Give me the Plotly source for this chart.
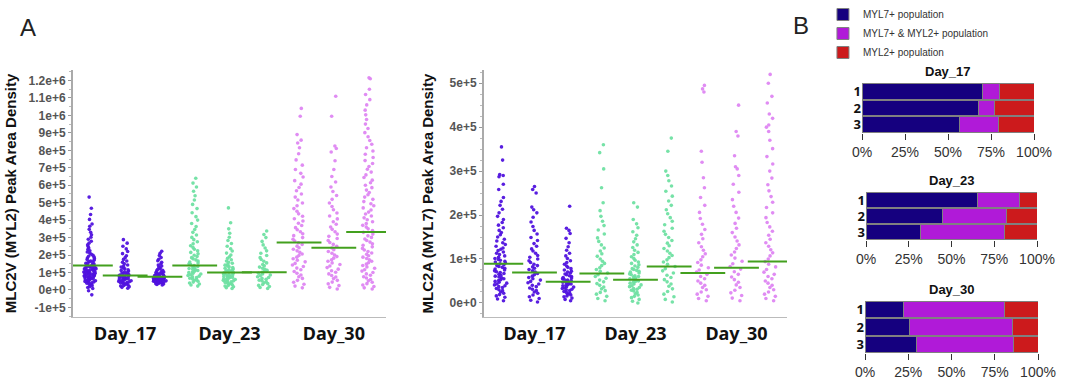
import plotly.graph_objects as go

# ---------------- Panel A data (values in thousands) ----------------
days = ["Day_17", "Day_23", "Day_30"]
day_tick_pos = [1, 4, 7]

# MLC2V (MYL2) peak area density, per sample column (thousands)
myl2_d17_1 = [-28, -5, 8, 14, 19, 24, 28, 31, 35, 38, 41, 44, 46, 49, 51, 53, 56, 58, 60, 62, 64, 66, 68, 70, 71, 73,
              75, 77, 78, 80, 82, 83, 85, 87, 88, 90, 92, 93, 95, 97, 98, 100, 102, 103, 105, 107, 108, 110, 112, 114,
              116, 118, 120, 122, 124, 126, 128, 130, 133, 135, 138, 140, 143, 146, 149, 152, 155, 158, 162, 166, 170,
              174, 178, 183, 188, 193, 198, 204, 210, 217, 224, 232, 240, 249, 258, 268, 279, 290, 302, 316, 330, 347,
              365, 378, 404, 432, 468, 532]
myl2_d17_2 = [10, 15, 19, 23, 26, 29, 32, 35, 37, 40, 42, 44, 47, 49, 51, 53, 55, 57, 59, 61, 63, 65, 67, 69, 71, 73, 75,
              77, 79, 81, 83, 86, 88, 91, 94, 97, 100, 104, 108, 112, 116, 121, 126, 131, 137, 143, 150, 158, 166, 175,
              185, 196, 208, 220, 235, 250, 268, 288]
myl2_d17_3 = [28, 31, 34, 36, 38, 40, 41, 43, 44, 45, 47, 48, 49, 50, 51, 52, 53, 54, 55, 56, 57, 58, 59, 60, 61, 62, 63,
              64, 65, 66, 67, 68, 69, 70, 71, 72, 73, 74, 75, 77, 78, 79, 81, 82, 84, 85, 87, 89, 91, 93, 95, 97, 100,
              103, 106, 109, 113, 117, 121, 126, 131, 137, 143, 150, 158, 167, 176, 186, 197, 210, 222]
myl2_d23_1 = [22, 28, 34, 40, 45, 50, 55, 59, 63, 67, 71, 75, 79, 83, 87, 91, 95, 99, 103, 107, 111, 115, 119, 123, 127,
              131, 135, 140, 145, 150, 155, 160, 166, 172, 178, 185, 192, 199, 207, 215, 224, 233, 243, 253, 264, 276,
              288, 301, 315, 330, 346, 363, 381, 400, 420, 442, 466, 490, 515, 540, 565, 590, 612, 640]
myl2_d23_2 = [8, 13, 18, 22, 26, 30, 34, 37, 40, 43, 46, 49, 52, 55, 57, 60, 62, 65, 67, 70, 72, 74, 77, 79, 81, 84, 86,
              88, 91, 93, 96, 98, 101, 104, 107, 110, 113, 116, 120, 124, 128, 132, 137, 142, 147, 153, 159, 166, 173,
              181, 190, 200, 211, 223, 236, 250, 266, 283, 302, 325, 350, 385, 470]
myl2_d23_3 = [8, 14, 20, 26, 31, 36, 41, 46, 51, 56, 61, 66, 71, 76, 81, 86, 91, 96, 101, 106, 112, 118, 124, 131, 138,
              146, 155, 164, 174, 185, 197, 210, 224, 240, 258, 278, 300, 318, 338]
myl2_d30_1 = [12, 22, 33, 44, 55, 66, 76, 86, 96, 106, 116, 125, 134, 143, 152, 161, 170, 179, 188, 197, 206, 215, 224,
              233, 242, 251, 260, 270, 280, 290, 300, 311, 322, 333, 345, 357, 369, 382, 395, 408, 422, 436, 451, 466,
              482, 498, 515, 532, 550, 568, 587, 606, 626, 647, 668, 690, 715, 745, 780, 815, 842, 858, 890, 995, 1040]
myl2_d30_2 = [5, 15, 25, 35, 45, 55, 65, 74, 83, 92, 101, 110, 119, 128, 137, 146, 155, 164, 173, 182, 191, 200, 210,
              220, 230, 240, 250, 261, 272, 283, 295, 307, 320, 333, 347, 361, 376, 391, 407, 424, 441, 459, 478, 498,
              519, 541, 564, 590, 618, 650, 690, 740, 790, 810, 825, 995, 1110]
myl2_d30_3 = [5, 12, 20, 28, 36, 44, 52, 60, 68, 76, 84, 92, 100, 108, 116, 124, 132, 140, 148, 156, 164, 172, 180, 188,
              196, 204, 212, 220, 229, 238, 247, 256, 265, 274, 283, 292, 301, 310, 320, 330, 340, 350, 360, 370, 380,
              391, 402, 413, 424, 435, 446, 458, 470, 482, 494, 506, 519, 532, 545, 558, 572, 586, 600, 614, 629, 644,
              659, 675, 691, 707, 724, 741, 759, 777, 796, 815, 835, 856, 878, 901, 925, 950, 976, 1003, 1030, 1060,
              1090, 1120, 1150, 1210, 1215]
myl2_means_k = [140, 83, 75, 140, 100, 102, 272, 242, 332]

# MLC2A (MYL7) peak area density (thousands)
myl7_d17_1 = [5, 9, 13, 16, 19, 22, 25, 28, 30, 33, 35, 37, 39, 41, 43, 45, 47, 49, 51, 53, 55, 57, 59, 61, 63, 65, 67,
              69, 71, 73, 75, 77, 79, 81, 83, 85, 87, 89, 91, 93, 95, 97, 99, 101, 104, 107, 110, 113, 116, 119, 122,
              125, 129, 133, 137, 141, 145, 150, 155, 160, 165, 171, 177, 183, 190, 197, 205, 213, 222, 231, 240, 258,
              270, 287, 290, 292, 325, 355]
myl7_d17_2 = [2, 6, 10, 14, 18, 22, 25, 28, 31, 34, 37, 40, 43, 46, 49, 52, 55, 58, 61, 64, 67, 70, 73, 76, 79, 82, 85,
              88, 92, 96, 100, 104, 108, 113, 118, 123, 129, 135, 142, 149, 157, 165, 174, 184, 195, 205, 212, 218, 250,
              258, 265]
myl7_d17_3 = [5, 8, 11, 14, 16, 18, 20, 22, 24, 26, 28, 30, 31, 33, 34, 36, 37, 39, 40, 42, 43, 44, 46, 47, 48, 50, 51,
              52, 54, 55, 57, 58, 60, 62, 64, 66, 68, 70, 72, 75, 78, 81, 84, 88, 92, 96, 101, 107, 113, 120, 128, 137,
              147, 158, 165, 170, 220]
myl7_d23_1 = [5, 10, 15, 20, 24, 28, 32, 36, 40, 44, 48, 52, 56, 60, 64, 68, 72, 76, 80, 85, 90, 95, 100, 106, 112, 118,
              125, 132, 140, 148, 157, 166, 176, 186, 197, 210, 228, 262, 305, 342, 360]
myl7_d23_2 = [0, 4, 8, 12, 15, 18, 21, 24, 27, 29, 31, 33, 35, 37, 39, 41, 43, 45, 47, 49, 50, 52, 54, 55, 57, 59, 60,
              62, 64, 66, 68, 70, 72, 74, 76, 78, 81, 84, 87, 90, 93, 97, 101, 105, 110, 115, 120, 126, 132, 139, 146,
              154, 162, 171, 180, 190, 218, 228]
myl7_d23_3 = [2, 8, 14, 20, 26, 32, 38, 43, 48, 53, 58, 63, 68, 73, 78, 83, 88, 93, 98, 103, 108, 113, 118, 124, 130,
              136, 142, 149, 156, 163, 170, 178, 186, 194, 203, 212, 222, 232, 243, 254, 266, 278, 290, 300, 345, 375]
myl7_d30_1 = [5, 10, 15, 20, 25, 30, 35, 40, 45, 50, 55, 60, 65, 70, 75, 80, 86, 92, 98, 105, 112, 120, 128, 137, 146,
              156, 167, 179, 192, 206, 222, 240, 262, 285, 320, 345, 480, 487, 495]
myl7_d30_2 = [5, 11, 17, 23, 29, 35, 41, 47, 53, 59, 65, 71, 77, 83, 89, 95, 102, 109, 116, 124, 132, 141, 150, 160, 170,
              181, 193, 206, 220, 235, 252, 270, 290, 305, 310, 335, 380, 390, 450]
myl7_d30_3 = [5, 10, 15, 20, 25, 30, 35, 40, 45, 50, 55, 60, 65, 70, 76, 82, 88, 94, 100, 107, 114, 121, 129, 137, 145,
              154, 163, 173, 183, 194, 205, 217, 229, 242, 255, 269, 284, 300, 316, 333, 351, 370, 390, 400, 405, 420,
              430, 455, 470, 500, 520]
myl7_means_k = [89, 69, 48, 67, 53, 83, 68, 80, 94]

myl2_tick_vals = [-1e5, 0, 1e5, 2e5, 3e5, 4e5, 5e5, 6e5, 7e5, 8e5, 9e5, 1e6, 1.1e6, 1.2e6]
myl2_tick_text = ["-1e+5", "0e+0", "1e+5", "2e+5", "3e+5", "4e+5", "5e+5", "6e+5", "7e+5", "8e+5", "9e+5",
                  "1e+6", "1.1e+6", "1.2e+6"]
myl7_tick_vals = [0, 1e5, 2e5, 3e5, 4e5, 5e5]
myl7_tick_text = ["0e+0", "1e+5", "2e+5", "3e+5", "4e+5", "5e+5"]

# ---------------- Panel B data (fractions) ----------------
samples = ["1", "2", "3"]
pop_names = ["MYL7+ population", "MYL7+ & MYL2+ population", "MYL2+ population"]
d17_myl7 = [0.70, 0.675, 0.565]
d17_both = [0.10, 0.095, 0.23]
d17_myl2 = [0.20, 0.23, 0.205]
d23_myl7 = [0.65, 0.45, 0.32]
d23_both = [0.25, 0.37, 0.49]
d23_myl2 = [0.10, 0.18, 0.19]
d30_myl7 = [0.225, 0.26, 0.30]
d30_both = [0.58, 0.59, 0.56]
d30_myl2 = [0.195, 0.15, 0.14]
pct_vals = [0, 0.25, 0.5, 0.75, 1.0]
pct_text = ["0%", "25%", "50%", "75%", "100%"]

# ---------------- styles ----------------
day_colors = ["#5012DE", "#6FE0A2", "#DE86F2"]
pop_colors = ["#15007F", "#B01AD8", "#CC1A1C"]
mean_color = "#43A01E"
FONT = "Liberation Sans"

W, H = 1080, 388
def px_x(a, b):
    return [a / W, b / W]
def px_y(top, bottom):
    return [1 - bottom / H, 1 - top / H]

fig = go.Figure()

def add_strips(groups, means_k, xa, ya):
    for i, vals in enumerate(groups):
        fig.add_trace(go.Box(
            y=[v * 1000 for v in vals], x0=i, width=0.55,
            boxpoints="all", jitter=0.72, pointpos=0,
            fillcolor="rgba(0,0,0,0)", line=dict(color="rgba(0,0,0,0)", width=0),
            whiskerwidth=0,
            marker=dict(color=day_colors[i // 3], size=3.6, opacity=0.95),
            showlegend=False, hoverinfo="y", xaxis=xa, yaxis=ya))
    fig.add_trace(go.Scatter(
        x=list(range(len(means_k))), y=[m * 1000 for m in means_k], mode="markers",
        marker=dict(symbol="line-ew", size=32, line=dict(color=mean_color, width=2)),
        showlegend=False, hoverinfo="y", xaxis=xa, yaxis=ya))

add_strips([myl2_d17_1, myl2_d17_2, myl2_d17_3, myl2_d23_1, myl2_d23_2, myl2_d23_3,
            myl2_d30_1, myl2_d30_2, myl2_d30_3], myl2_means_k, "x", "y")
add_strips([myl7_d17_1, myl7_d17_2, myl7_d17_3, myl7_d23_1, myl7_d23_2, myl7_d23_3,
            myl7_d30_1, myl7_d30_2, myl7_d30_3], myl7_means_k, "x2", "y2")

bar_sets = [(d17_myl7, d17_both, d17_myl2), (d23_myl7, d23_both, d23_myl2), (d30_myl7, d30_both, d30_myl2)]
for k, series in enumerate(bar_sets):
    for j, vals in enumerate(series):
        fig.add_trace(go.Bar(
            x=vals, y=samples, orientation="h", name=pop_names[j],
            marker=dict(color=pop_colors[j], line=dict(color="#808080", width=1)),
            showlegend=(k == 0), legendgroup=pop_names[j],
            xaxis=f"x{k + 3}", yaxis=f"y{k + 3}"))

scatter_y = px_y(70, 317)
tickfont_a = dict(family=FONT, size=12, color="#555", weight="bold")
xlab_font = dict(family="Noto Sans", size=18, color="#111", weight="bold")
ytitle_font = dict(family=FONT, size=15, color="#111", weight="bold")

layout = dict(
    width=W, height=H, margin=dict(l=0, r=0, t=0, b=0),
    paper_bgcolor="white", plot_bgcolor="white",
    font=dict(family=FONT),
    barmode="stack", bargap=0.06,
    xaxis=dict(domain=px_x(73, 386), range=[-0.5, 8.5], tickvals=day_tick_pos, ticktext=days,
               tickfont=xlab_font, ticks="", showline=True, linecolor="#bbb", linewidth=1,
               showgrid=False, zeroline=False, anchor="y", automargin=False),
    yaxis=dict(domain=scatter_y, range=[-1.55e5, 1.26e6], tickvals=myl2_tick_vals, ticktext=myl2_tick_text,
               tickfont=tickfont_a, ticks="outside", ticklen=3, tickcolor="#999",
               minor=dict(tickmode="linear", tick0=0, dtick=5e4, ticks="outside", ticklen=2, tickcolor="#bbb"),
               showline=True, linecolor="#aaa", linewidth=2, showgrid=False, zeroline=False,
               title=dict(text="MLC2V (MYL2) Peak Area Density", font=ytitle_font, standoff=8), anchor="x",
               automargin=False),
    xaxis2=dict(domain=px_x(484, 787), range=[-0.5, 8.5], tickvals=day_tick_pos, ticktext=days,
                tickfont=xlab_font, ticks="", showline=True, linecolor="#bbb", linewidth=1,
                showgrid=False, zeroline=False, anchor="y2", automargin=False),
    yaxis2=dict(domain=scatter_y, range=[-0.32e5, 5.3e5], tickvals=myl7_tick_vals, ticktext=myl7_tick_text,
                tickfont=tickfont_a, ticks="outside", ticklen=3, tickcolor="#999",
                minor=dict(tickmode="linear", tick0=0, dtick=2.5e4, ticks="outside", ticklen=2, tickcolor="#bbb"),
                showline=True, linecolor="#aaa", linewidth=2, showgrid=False, zeroline=False,
                title=dict(text="MLC2A (MYL7) Peak Area Density", font=ytitle_font, standoff=12), anchor="x2",
                automargin=False),
    legend=dict(x=0.762, y=1.0, xanchor="left", yanchor="top", font=dict(family=FONT, size=10, color="#333"),
                bgcolor="rgba(0,0,0,0)", itemwidth=30, tracegroupgap=0),
)

bar_boxes = [((862, 1034), (83, 133)), ((866, 1037), (192, 240)), ((865, 1038), (301, 353))]
annotations = [
    dict(text="A", x=18 / W, y=1 - 28 / H, xref="paper", yref="paper", xanchor="left", yanchor="middle",
         showarrow=False, font=dict(family=FONT, size=24, color="#222")),
    dict(text="B", x=791 / W, y=1 - 26 / H, xref="paper", yref="paper", xanchor="left", yanchor="middle",
         showarrow=False, font=dict(family=FONT, size=24, color="#222")),
]
for k, ((xa, xb), (yt, yb)) in enumerate(bar_boxes):
    n = k + 3
    layout[f"xaxis{n}"] = dict(domain=px_x(xa, xb), range=[0, 1.0], tickvals=pct_vals, ticktext=pct_text,
                               tickfont=dict(family=FONT, size=14, color="#333"), ticks="outside", ticklen=6,
                               tickcolor="#333", showline=False, showgrid=False, zeroline=False, anchor=f"y{n}",
                               automargin=False)
    layout[f"yaxis{n}"] = dict(domain=px_y(yt, yb), autorange="reversed", type="category",
                               tickmode="array", tickvals=samples, ticktext=samples,
                               tickfont=dict(family="Noto Sans", size=13, color="#111", weight="bold"),
                               ticks="", showline=False, showgrid=False, zeroline=False, anchor=f"x{n}",
                               automargin=False)
    annotations.append(dict(text=days[k], x=(xa + xb) / 2 / W, y=1 - (yt - 12) / H, xref="paper", yref="paper",
                            xanchor="center", yanchor="middle", showarrow=False,
                            font=dict(family=FONT, size=13, color="#111", weight="bold")))
layout["annotations"] = annotations
fig.update_layout(**layout)
fig.write_html("out.html", config={"displayModeBar": False},
               post_script="document.body.style.margin='0';")
